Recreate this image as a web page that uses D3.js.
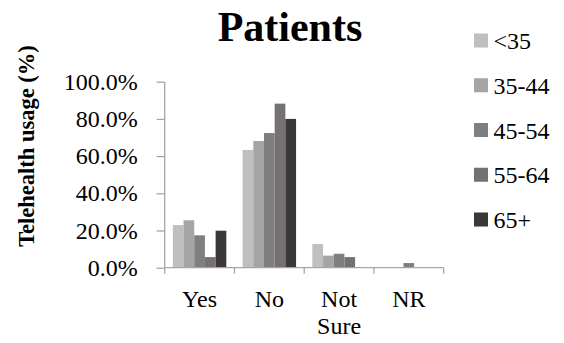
<!DOCTYPE html>
<html>
<head>
<meta charset="utf-8">
<script src="https://cdn.jsdelivr.net/npm/d3@7"></script>
<style>
  html, body { margin: 0; padding: 0; background: #fff; }
  svg { display: block; }
  svg text { font-family: "Liberation Serif", "Times New Roman", Times, serif; }
</style>
</head>
<body>
<svg id="chart" width="564" height="343"></svg>
<script>
// Telehealth usage by response, grouped by age band (percent)
const categories = ["Yes", "No", "Not Sure", "NR"];
const ageGroups = ["<35", "35-44", "45-54", "55-64", "65+"];
const under35 = [22.9, 63.3, 12.7, 0.0];
const age35to44 = [25.5, 68.1, 6.5, 0.3];
const age45to54 = [17.4, 72.4, 7.5, 2.5];
const age55to64 = [5.7, 88.2, 5.7, 0.0];
const age65plus = [19.9, 80.0, 0.0, 0.0];
const yTicks = [0, 20, 40, 60, 80, 100];
const colors = ["#bfbfbf", "#a5a5a5", "#7f7f7f", "#767171", "#3b3838"];

const seriesValues = [under35, age35to44, age45to54, age55to64, age65plus];

const svg = d3.select("#chart");
const plot = { left: 164.7, right: 443.7, top: 81.7, bottom: 267.7 };

const x0 = d3.scaleBand().domain(categories).range([plot.left, plot.right]).paddingInner(0).paddingOuter(0);
const x1 = d3.scaleBand().domain(ageGroups).range([0, x0.bandwidth()]).paddingInner(0).paddingOuter(0.76);
const y = d3.scaleLinear().domain([0, 100]).range([plot.bottom, plot.top]);
const color = d3.scaleOrdinal().domain(ageGroups).range(colors);

// Bars
const groups = svg.append("g").selectAll("g")
  .data(categories)
  .join("g")
  .attr("transform", d => `translate(${x0(d)},0)`);

groups.selectAll("rect")
  .data((c, ci) => ageGroups.map((a, ai) => ({ age: a, value: seriesValues[ai][ci] })))
  .join("rect")
  .attr("x", d => x1(d.age))
  .attr("width", x1.bandwidth())
  .attr("y", d => y(d.value))
  .attr("height", d => y(0) - y(d.value))
  .attr("fill", d => color(d.age));

const axisColor = "#a6a6a6";

// Y axis
const yAxis = svg.append("g")
  .attr("transform", `translate(${plot.left},0)`)
  .call(d3.axisLeft(y).tickValues(yTicks).tickSize(8).tickPadding(19)
    .tickFormat(d => d.toFixed(1) + "%"));
yAxis.select(".domain").attr("stroke", axisColor).attr("stroke-width", 1.3)
  .attr("d", `M0,${plot.top}V${plot.bottom}`);
yAxis.selectAll(".tick line").attr("stroke", axisColor).attr("stroke-width", 1.3);
yAxis.selectAll(".tick text")
  .attr("font-size", 24).attr("fill", "#000");

// X axis with boundary ticks between categories
const xAxis = svg.append("g").attr("transform", `translate(0,${plot.bottom})`);
xAxis.append("line")
  .attr("x1", plot.left).attr("x2", plot.right)
  .attr("stroke", axisColor).attr("stroke-width", 1.3);
const boundaries = categories.map(c => x0(c)).concat([x0(categories[categories.length - 1]) + x0.bandwidth()]);
xAxis.selectAll("line.bt")
  .data(boundaries)
  .join("line")
  .attr("class", "bt")
  .attr("x1", d => d).attr("x2", d => d)
  .attr("y1", 0).attr("y2", 6)
  .attr("stroke", axisColor).attr("stroke-width", 1.3);

const xLabels = svg.append("g");
categories.forEach(c => {
  const words = c.split(" ");
  const t = xLabels.append("text")
    .attr("x", x0(c) + x0.bandwidth() / 2)
    .attr("y", 306.5)
    .attr("text-anchor", "middle")
    .attr("font-size", 24)
    .attr("fill", "#000");
  words.forEach((w, i) => {
    t.append("tspan")
      .attr("x", x0(c) + x0.bandwidth() / 2)
      .attr("dy", i === 0 ? 0 : 27.5)
      .text(w);
  });
});

// Title
svg.append("text")
  .attr("x", 290).attr("y", 41)
  .attr("text-anchor", "middle")
  .attr("font-size", 42).attr("font-weight", "bold")
  .text("Patients");

// Y axis title
svg.append("text")
  .attr("transform", "translate(34,146) rotate(-90)")
  .attr("text-anchor", "middle")
  .attr("font-size", 22.5).attr("font-weight", "bold")
  .text("Telehealth usage (%)");

// Legend
const legend = svg.append("g").attr("transform", "translate(474,0)");
const legendY = d3.scalePoint().domain(ageGroups).range([40.5, 219.5]);
const items = legend.selectAll("g")
  .data(ageGroups)
  .join("g")
  .attr("transform", d => `translate(0,${legendY(d)})`);
items.append("rect")
  .attr("x", 0).attr("y", -7).attr("width", 14).attr("height", 14)
  .attr("fill", d => color(d));
items.append("text")
  .attr("x", 19.5).attr("y", 8.5)
  .attr("font-size", 24).attr("fill", "#000")
  .text(d => d);
</script>
</body>
</html>
